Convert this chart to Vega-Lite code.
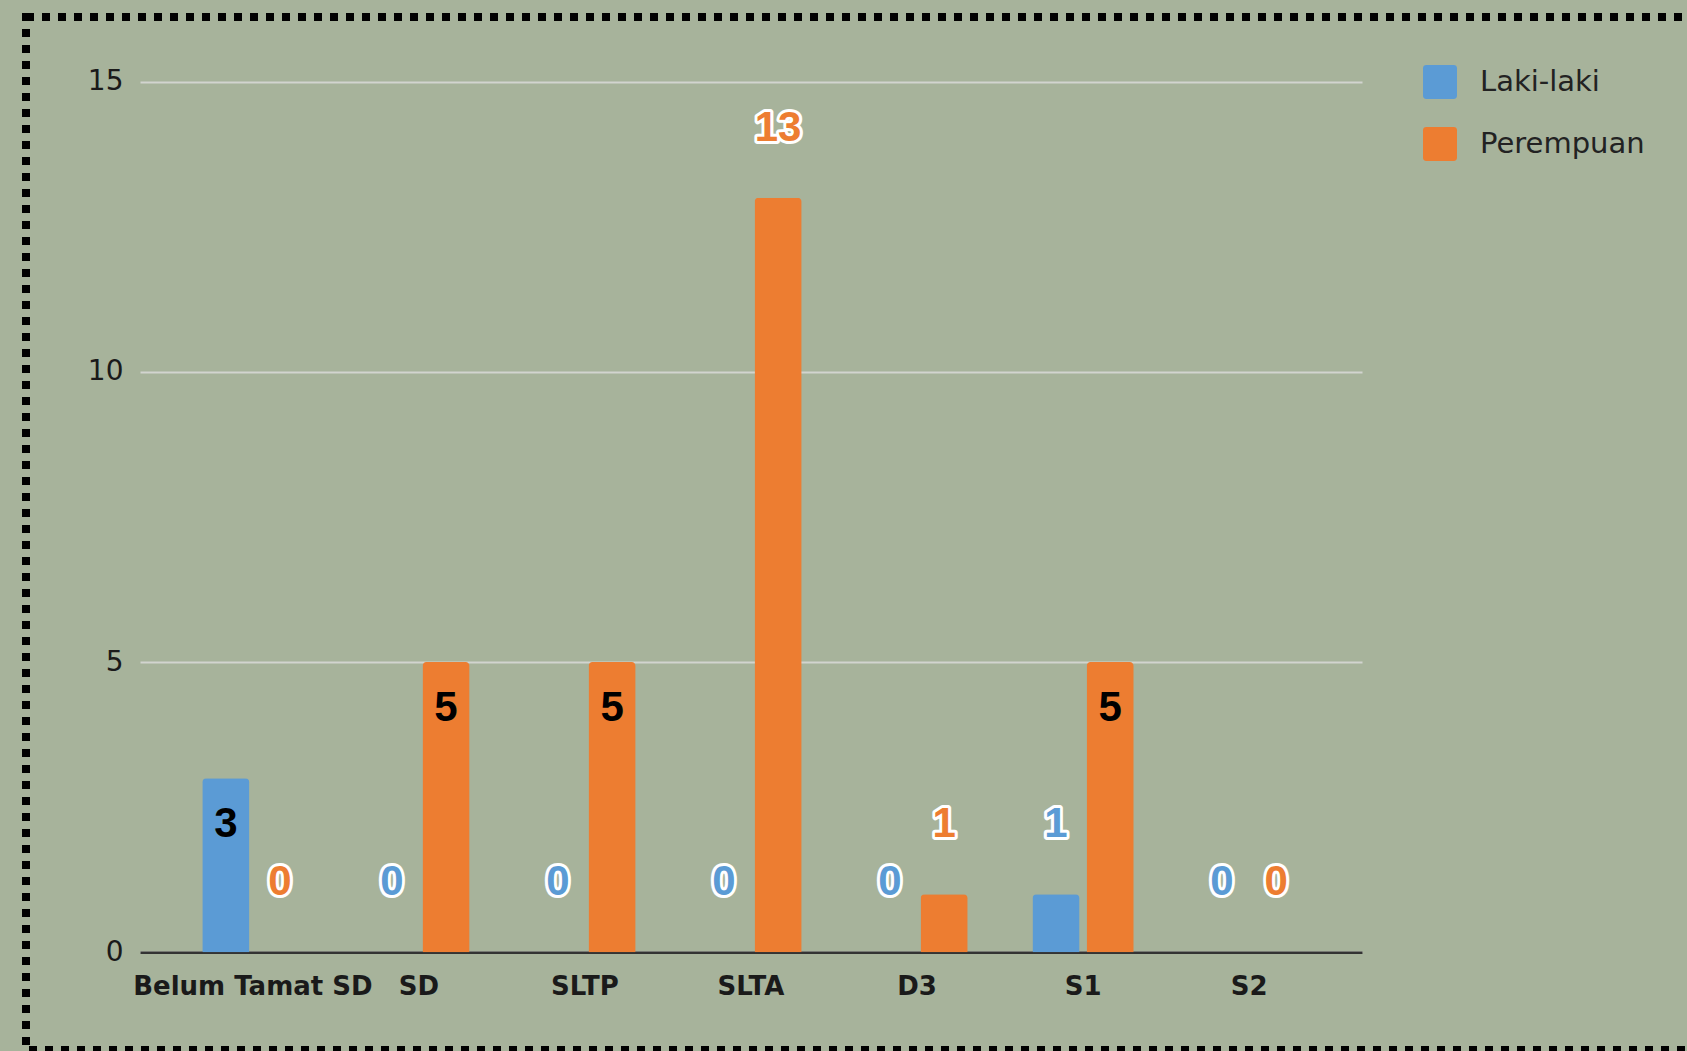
{
  "$schema": "https://vega.github.io/schema/vega-lite/v6.json",
  "autosize": {"type": "none"},
  "width": 1665,
  "height": 1033,
  "padding": {"left": 26, "top": 17, "right": -4, "bottom": 1},
  "background": "#a7b39b",
  "config": {
    "view": {"stroke": "#000000", "strokeWidth": 8, "strokeDash": [8, 8], "fill": null}
  },
  "data": {
    "values": [
      {"kategori": "Belum Tamat SD", "jenis": "Laki-laki", "jumlah": 3},
      {"kategori": "Belum Tamat SD", "jenis": "Perempuan", "jumlah": 0},
      {"kategori": "SD", "jenis": "Laki-laki", "jumlah": 0},
      {"kategori": "SD", "jenis": "Perempuan", "jumlah": 5},
      {"kategori": "SLTP", "jenis": "Laki-laki", "jumlah": 0},
      {"kategori": "SLTP", "jenis": "Perempuan", "jumlah": 5},
      {"kategori": "SLTA", "jenis": "Laki-laki", "jumlah": 0},
      {"kategori": "SLTA", "jenis": "Perempuan", "jumlah": 13},
      {"kategori": "D3", "jenis": "Laki-laki", "jumlah": 0},
      {"kategori": "D3", "jenis": "Perempuan", "jumlah": 1},
      {"kategori": "S1", "jenis": "Laki-laki", "jumlah": 1},
      {"kategori": "S1", "jenis": "Perempuan", "jumlah": 5},
      {"kategori": "S2", "jenis": "Laki-laki", "jumlah": 0},
      {"kategori": "S2", "jenis": "Perempuan", "jumlah": 0}
    ]
  },
  "encoding": {
    "x": {
      "field": "kategori",
      "type": "nominal",
      "sort": ["Belum Tamat SD", "SD", "SLTP", "SLTA", "D3", "S1", "S2"],
      "scale": {"range": [114, 1336], "paddingInner": 0.39, "paddingOuter": 0.375},
      "axis": {
        "title": null,
        "orient": "bottom",
        "offset": -97.7,
        "labelAngle": 0,
        "labelFont": "DejaVu Sans",
        "labelFontWeight": "bold",
        "labelFontSize": 26,
        "labelColor": "#1a1a1a",
        "labelPadding": 21,
        "labelLimit": 0,
        "labelOverlap": false,
        "ticks": false,
        "tickSize": 0,
        "domain": true,
        "domainColor": "#333333",
        "domainWidth": 2.5,
        "grid": false
      }
    },
    "xOffset": {
      "field": "jenis",
      "type": "nominal",
      "sort": ["Laki-laki", "Perempuan"],
      "scale": {"paddingInner": 0.13, "paddingOuter": 0}
    },
    "y": {
      "field": "jumlah",
      "type": "quantitative",
      "scale": {"domain": [0, 15], "range": [935.3, 64.7], "nice": false, "zero": true},
      "axis": {
        "title": null,
        "orient": "left",
        "offset": -114,
        "values": [0, 5, 10, 15],
        "labelFont": "DejaVu Sans",
        "labelFontSize": 28,
        "labelColor": "#1a1a1a",
        "labelPadding": 17,
        "ticks": false,
        "tickSize": 0,
        "domain": false,
        "grid": true,
        "gridColor": "#d2d4cf",
        "gridWidth": 2
      }
    }
  },
  "layer": [
    {
      "mark": {"type": "bar", "cornerRadiusTopLeft": 4, "cornerRadiusTopRight": 4},
      "encoding": {
        "color": {
          "field": "jenis",
          "type": "nominal",
          "scale": {"domain": ["Laki-laki", "Perempuan"], "range": ["#5b9bd5", "#ed7d31"]},
          "legend": {
            "title": null,
            "orient": "none",
            "legendX": 1397,
            "legendY": 48,
            "padding": 0,
            "symbolType": "M-1,-0.8Q-1,-1,-0.8,-1L0.8,-1Q1,-1,1,-0.8L1,0.8Q1,1,0.8,1L-0.8,1Q-1,1,-1,0.8Z",
            "symbolSize": 1156,
            "symbolStrokeWidth": 0,
            "symbolOpacity": 1,
            "labelFont": "DejaVu Sans",
            "labelFontSize": 29,
            "labelColor": "#222222",
            "labelOffset": 23,
            "labelLimit": 0,
            "rowPadding": 28
          }
        }
      }
    },
    {
      "transform": [{"filter": "datum.jumlah < 3 || datum.jumlah > 5"}],
      "mark": {
        "type": "text",
        "font": "Liberation Sans",
        "fontWeight": "bold",
        "fontSize": 42,
        "baseline": "middle",
        "align": "center",
        "dy": -70,
        "fill": "#ffffff",
        "stroke": "#ffffff",
        "strokeWidth": 6,
        "strokeJoin": "round"
      },
      "encoding": {"text": {"field": "jumlah", "type": "quantitative"}}
    },
    {
      "transform": [{"filter": "datum.jumlah < 3 || datum.jumlah > 5"}],
      "mark": {
        "type": "text",
        "font": "Liberation Sans",
        "fontWeight": "bold",
        "fontSize": 42,
        "baseline": "middle",
        "align": "center",
        "dy": -70
      },
      "encoding": {
        "text": {"field": "jumlah", "type": "quantitative"},
        "color": {"field": "jenis", "type": "nominal", "legend": null}
      }
    },
    {
      "transform": [{"filter": "datum.jumlah >= 3 && datum.jumlah <= 5"}],
      "mark": {
        "type": "text",
        "font": "Liberation Sans",
        "fontWeight": "bold",
        "fontSize": 42,
        "baseline": "middle",
        "align": "center",
        "dy": 46,
        "fill": "#000000"
      },
      "encoding": {"text": {"field": "jumlah", "type": "quantitative"}}
    }
  ]
}
